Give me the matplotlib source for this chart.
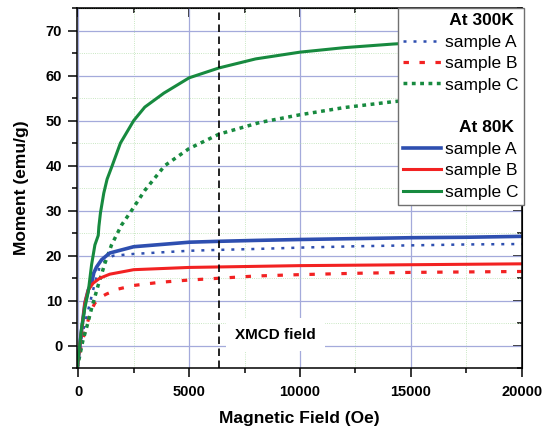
import matplotlib
matplotlib.use("Agg")
import matplotlib.pyplot as plt
from matplotlib.lines import Line2D
from matplotlib.ticker import MultipleLocator

plt.rcParams['font.family'] = ['Liberation Sans', 'DejaVu Sans']

# 300K curves (dotted / dashed)
a300_x = [-50, 150, 350, 550, 750, 960, 1200, 1575, 2500, 5000, 6350, 8000, 10000, 12500, 15000, 17500, 20000]
a300_y = [-5, 2, 6, 10, 14, 17.4, 18.8, 20.0, 20.4, 21.1, 21.3, 21.5, 21.8, 22.1, 22.3, 22.5, 22.6]

b300_x = [-50, 150, 350, 550, 750, 1050, 1275, 1800, 2500, 3680, 5000, 6350, 8000, 10000, 12500, 15000, 17500, 20000]
b300_y = [-5, 0.5, 4, 7.5, 9.5, 10.9, 11.5, 12.6, 13.4, 14.1, 14.6, 15.0, 15.5, 15.8, 16.1, 16.3, 16.4, 16.5]

c300_x = [-50, 200, 400, 600, 900, 1200, 1500, 1950, 2400, 3000, 3900, 5000, 6350, 8200, 10000, 12000, 14200, 17000, 20000]
c300_y = [-5, 1, 4.5, 8.3, 13.5, 18.3, 22.4, 26.8, 30, 34.5, 40, 43.8, 47, 49.6, 51.3, 52.9, 54.2, 55.5, 56.5]

# 80K curves (solid)
a80_x = [-50, 150, 300, 450, 600, 650, 700, 825, 1050, 1420, 2500, 5000, 6350, 8000, 10000, 12500, 15000, 17500, 20000]
a80_y = [-5, 3.5, 9.5, 12.4, 14.0, 15.0, 16.2, 17.5, 19.1, 20.6, 22.0, 23.0, 23.2, 23.4, 23.6, 23.8, 24.0, 24.1, 24.3]

b80_x = [-50, 150, 300, 450, 670, 970, 1420, 2500, 5000, 7500, 10000, 15000, 20000]
b80_y = [-5, 3.5, 9.5, 12.4, 13.9, 15.0, 15.9, 16.9, 17.4, 17.6, 17.8, 18.0, 18.2]

c80_x = [-50, 150, 300, 450, 600, 750, 900, 930, 1000, 1150, 1300, 1530, 1900, 2500, 3000, 3860, 5000,
         6350, 8000, 10000, 12000, 14200, 17000, 20000]
c80_y = [-5, 4, 8.5, 12.0, 18.0, 22.4, 24.5, 26.5, 29.5, 33.9, 37, 40, 45, 50, 53, 56.1, 59.5,
         61.7, 63.7, 65.2, 66.2, 67.0, 67.8, 68.5]

xmcd_field = 6350
xticks = [0, 5000, 10000, 15000, 20000]
xtick_labels = ['0', '5000', '10000', '15000', '20000']
yticks = [0, 10, 20, 30, 40, 50, 60, 70]
ytick_labels = ['0', '10', '20', '30', '40', '50', '60', '70']

blue = '#2e4fb0'
red = '#f22222'
green = '#178a3f'

fig = plt.figure(figsize=(5.43, 4.26), dpi=100)
ax = fig.add_axes([0.1413, 0.1354, 0.8195, 0.8458])

ax.plot(a300_x, a300_y, color=blue, lw=1.8, linestyle=(0, (1.2, 2.8)))
ax.plot(b300_x, b300_y, color=red, lw=2.3, linestyle=(0, (1.7, 3.3)))
ax.plot(c300_x, c300_y, color=green, lw=2.5, linestyle=(0, (1.1, 1.3)))
ax.plot(a80_x, a80_y, color=blue, lw=2.6)
ax.plot(b80_x, b80_y, color=red, lw=2.2)
ax.plot(c80_x, c80_y, color=green, lw=2.2)

ax.axvline(xmcd_field, color='black', lw=1.2, linestyle=(0, (4.5, 2.7)))
ax.text(8900, 2.5, 'XMCD field', ha='center', va='center', fontsize=11, fontweight='bold',
        bbox=dict(boxstyle='square,pad=0.6', facecolor='white', edgecolor='none'), zorder=4)

ax.set_xlim(-70, 20000)
ax.set_ylim(-5, 75)
ax.set_xticks(xticks)
ax.set_xticklabels(xtick_labels)
ax.set_yticks(yticks)
ax.set_yticklabels(ytick_labels)
ax.xaxis.set_minor_locator(MultipleLocator(2500))
ax.yaxis.set_minor_locator(MultipleLocator(5))

ax.set_axisbelow(True)
ax.grid(which='major', color='#a4aadb', lw=0.9)
ax.grid(which='minor', color='#b8e0b0', lw=0.6, linestyle=':')

ax.tick_params(which='major', direction='out', length=6.5, width=1.1, labelsize=10.5, pad=4)
ax.tick_params(which='minor', direction='out', length=3.5, width=1.1)
ax.tick_params(axis='x', pad=5.5)
for lab in ax.get_xticklabels() + ax.get_yticklabels():
    lab.set_fontweight('bold')
for sp in ax.spines.values():
    sp.set_linewidth(1.1)

top = ax.secondary_xaxis('top')
top.set_xticks(xticks)
top.xaxis.set_minor_locator(MultipleLocator(2500))
top.tick_params(which='both', direction='in', labeltop=False, width=1.1)
top.tick_params(which='major', length=6.5)
top.tick_params(which='minor', length=3.5)
right = ax.secondary_yaxis('right')
right.set_yticks(yticks)
right.yaxis.set_minor_locator(MultipleLocator(5))
right.tick_params(which='both', direction='in', labelright=False, width=1.1)
right.tick_params(which='major', length=6.5)
right.tick_params(which='minor', length=3.5)

ax.set_xlabel('Magnetic Field (Oe)', fontsize=12.5, fontweight='bold', labelpad=9)
ax.set_ylabel('Moment (emu/g)', fontsize=12.5, fontweight='bold', labelpad=12)

blank = Line2D([], [], linestyle='none')
handles = [
    blank,
    Line2D([], [], color=blue, lw=1.8, linestyle=(0, (1.2, 2.8))),
    Line2D([], [], color=red, lw=2.3, linestyle=(0, (1.7, 3.3))),
    Line2D([], [], color=green, lw=2.5, linestyle=(0, (1.1, 1.3))),
    blank,
    blank,
    Line2D([], [], color=blue, lw=2.6),
    Line2D([], [], color=red, lw=2.2),
    Line2D([], [], color=green, lw=2.2),
]
labels = [' At 300K', 'sample A', 'sample B', 'sample C', ' ', '   At 80K', 'sample A', 'sample B', 'sample C']
leg = ax.legend(handles, labels, loc='upper left', bbox_to_anchor=(398 / 543, 1 - 8 / 426),
                bbox_transform=fig.transFigure, borderaxespad=0, fontsize=12.5,
                handlelength=2.15, handletextpad=0.25, borderpad=0.3, labelspacing=0.36,
                fancybox=False, framealpha=1, edgecolor='#707070')
leg.get_frame().set_linewidth(1.0)
leg.set_zorder(5)
for i in (0, 5):
    leg.get_texts()[i].set_fontweight('bold')

fig.savefig('out.png', dpi=100)
